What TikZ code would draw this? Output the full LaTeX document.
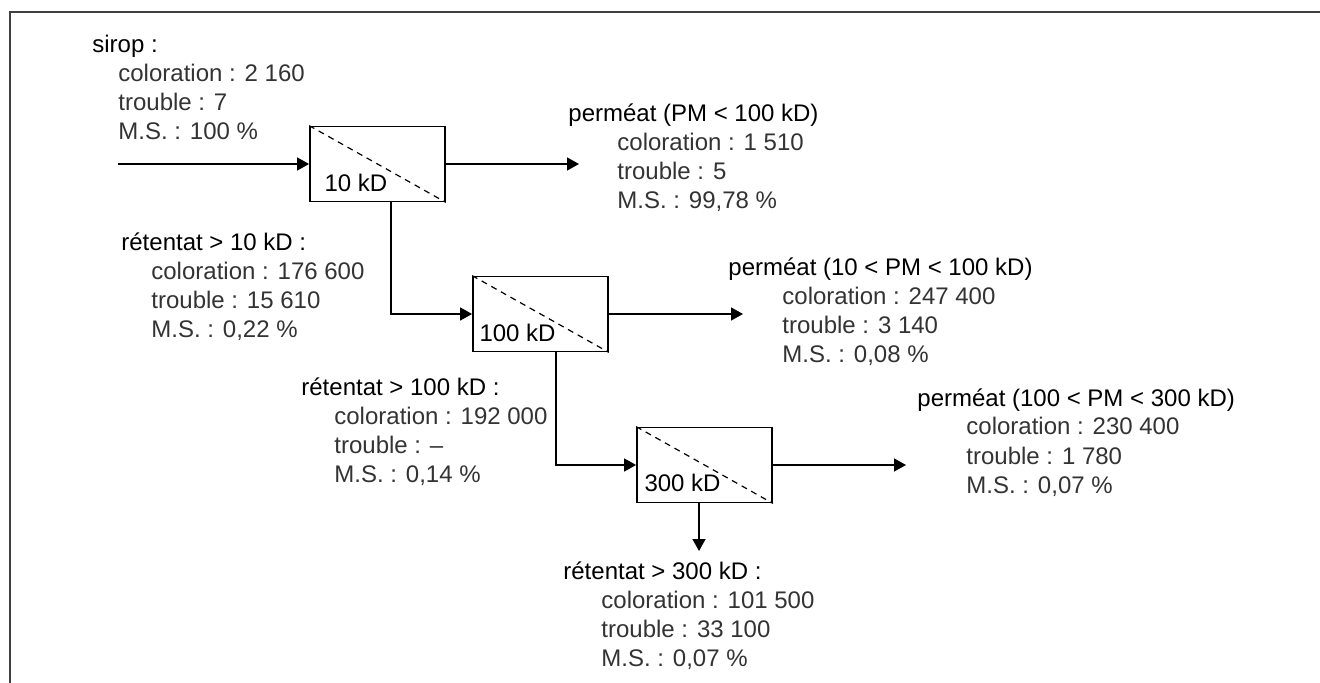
\documentclass[tikz,border=0pt]{standalone}
\usepackage{fontspec}
\setmainfont{Liberation Sans}
\usetikzlibrary{arrows.meta,positioning}
\definecolor{valgray}{HTML}{333333}
\begin{document}
\begin{tikzpicture}[x=0.5pt,y=-0.5pt,
    every node/.style={inner sep=0pt},
    txt/.style={anchor=base west,align=left,font=\fontsize{12}{14.5}\selectfont},
    filter/.style={draw,line width=0.9pt,minimum width=67.5pt,minimum height=37.5pt},
    flow/.style={line width=0.7pt,-{Triangle[length=6pt,width=6.5pt]}},
    cut/.style={line width=0.6pt,dash pattern=on 3pt off 2.5pt}]
  \useasboundingbox (0,0) rectangle (1320,683);
  \draw[line width=1.2pt,black!75] (10,683) -- (10,12) -- (1320,12);

  \node[filter] (f10) at (377.5,164) {};
  \node[filter] (f100) at (540.5,314) {};
  \node[filter] (f300) at (704.5,465) {};
  \draw[cut] (f10.north west) -- (f10.south east);
  \draw[cut] (f100.north west) -- (f100.south east);
  \draw[cut] (f300.north west) -- (f300.south east);
  \node[txt] (l10) at ([shift={(7.5pt,5.25pt)}]f10.south west) {10 kD};
  \node[txt] (l100) at ([shift={(3.5pt,5.25pt)}]f100.south west) {100 kD};
  \node[txt] (l300) at ([shift={(4pt,5.75pt)}]f300.south west) {300 kD};

  \node[txt] (sirop) at (92,140) {sirop :\\
    \hspace*{13pt}\textcolor{valgray}{coloration : 2 160}\\
    \hspace*{13pt}\textcolor{valgray}{trouble : 7}\\
    \hspace*{13pt}\textcolor{valgray}{M.S. : 100 \%}};
  \node[txt] (perm1) at (568,209) {perméat (PM < 100 kD)\\
    \hspace*{24.5pt}\textcolor{valgray}{coloration : 1 510}\\
    \hspace*{24.5pt}\textcolor{valgray}{trouble : 5}\\
    \hspace*{24.5pt}\textcolor{valgray}{M.S. : 99,78 \%}};
  \node[txt] (ret1) at (121,338) {rétentat > 10 kD :\\
    \hspace*{15pt}\textcolor{valgray}{coloration : 176 600}\\
    \hspace*{15pt}\textcolor{valgray}{trouble : 15 610}\\
    \hspace*{15pt}\textcolor{valgray}{M.S. : 0,22 \%}};
  \node[txt] (perm2) at (728,363) {perméat (10 < PM < 100 kD)\\
    \hspace*{27pt}\textcolor{valgray}{coloration : 247 400}\\
    \hspace*{27pt}\textcolor{valgray}{trouble : 3 140}\\
    \hspace*{27pt}\textcolor{valgray}{M.S. : 0,08 \%}};
  \node[txt] (ret2) at (301,482) {rétentat > 100 kD :\\
    \hspace*{16.5pt}\textcolor{valgray}{coloration : 192 000}\\
    \hspace*{16.5pt}\textcolor{valgray}{trouble : –}\\
    \hspace*{16.5pt}\textcolor{valgray}{M.S. : 0,14 \%}};
  \node[txt] (perm3) at (917,493) {perméat (100 < PM < 300 kD)\\
    \hspace*{24.5pt}\textcolor{valgray}{coloration : 230 400}\\
    \hspace*{24.5pt}\textcolor{valgray}{trouble : 1 780}\\
    \hspace*{24.5pt}\textcolor{valgray}{M.S. : 0,07 \%}};
  \node[txt] (ret3) at (563,666) {rétentat > 300 kD :\\
    \hspace*{19pt}\textcolor{valgray}{coloration : 101 500}\\
    \hspace*{19pt}\textcolor{valgray}{trouble : 33 100}\\
    \hspace*{19pt}\textcolor{valgray}{M.S. : 0,07 \%}};

  \coordinate (feed) at (118,164);
  \coordinate (p1in) at (579,164);
  \coordinate (p2in) at (743,314);
  \coordinate (p3in) at (906,465);
  \coordinate (r3in) at (699,551);
  \draw[flow] (feed) -- (f10);
  \draw[flow] (f10) -- (p1in);
  \draw[flow] ([xshift=6.75pt]f10.south) |- (f100);
  \draw[flow] (f100) -- (p2in);
  \draw[flow] ([xshift=7.75pt]f100.south) |- (f300);
  \draw[flow] (f300) -- (p3in);
  \draw[flow] ([xshift=-2.75pt]f300.south) -- (r3in);
\end{tikzpicture}
\end{document}
